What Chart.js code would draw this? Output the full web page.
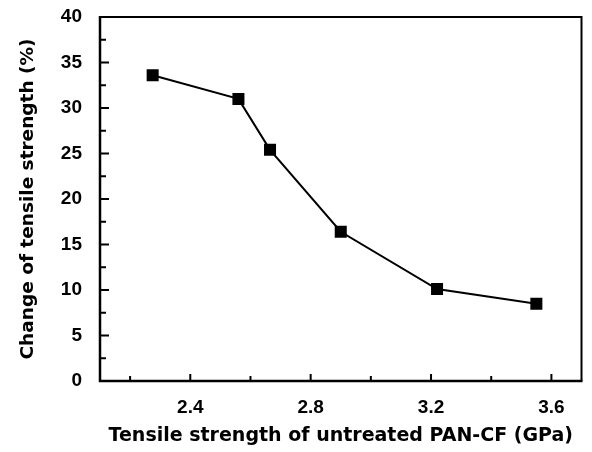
<!DOCTYPE html>
<html>
<head>
<meta charset="utf-8">
<script src="https://cdn.jsdelivr.net/npm/chart.js@4/dist/chart.umd.min.js"></script>
<style>
  html, body { margin: 0; padding: 0; background: #fff; }
  #wrap { width: 592px; height: 452px; }
</style>
</head>
<body>
<div id="wrap"><canvas id="c" width="592" height="452"></canvas></div>
<script>
// Data
const untreatedStrength = [2.275, 2.56, 2.665, 2.9, 3.22, 3.55];
const changePercent = [33.6, 31.0, 25.4, 16.4, 10.1, 8.5];

// Tick labels
const xTickLabels = [2.4, 2.8, 3.2, 3.6];
const xMinorTicks = [2.2, 2.6, 3.0, 3.4];
const yTickLabels = [0, 5, 10, 15, 20, 25, 30, 35, 40];
const yMinorTicks = [2.5, 7.5, 12.5, 17.5, 22.5, 27.5, 32.5, 37.5];

const xTitle = 'Tensile strength of untreated PAN-CF (GPa)';
const yTitle = 'Change of tensile strength (%)';

const TICK_FONT = '"Liberation Sans", Arial, Helvetica, sans-serif';
const TITLE_FONT = '"DejaVu Sans", "Liberation Sans", sans-serif';

const framePlugin = {
  id: 'frame',
  afterDatasetsDraw(chart) {
    const ctx = chart.ctx;
    const a = chart.chartArea;
    const xs = chart.scales.x, ys = chart.scales.y;
    ctx.save();
    ctx.strokeStyle = '#000';
    ctx.lineCap = 'butt';
    ctx.lineWidth = 2;
    ctx.beginPath();
    ctx.moveTo(a.left, a.top); ctx.lineTo(a.right, a.top); ctx.lineTo(a.right, a.bottom);
    ctx.stroke();
    ctx.lineWidth = 2.5;
    ctx.beginPath();
    ctx.moveTo(a.left, a.top - 1); ctx.lineTo(a.left, a.bottom); ctx.lineTo(a.right + 1, a.bottom);
    ctx.stroke();
    ctx.lineWidth = 2;
    ctx.beginPath();
    yTickLabels.forEach(v => {
      if (v <= ys.min || v >= ys.max) return;
      const p = ys.getPixelForValue(v);
      ctx.moveTo(a.left, p); ctx.lineTo(a.left + 9, p);
    });
    yMinorTicks.forEach(v => {
      const p = ys.getPixelForValue(v);
      ctx.moveTo(a.left, p); ctx.lineTo(a.left + 6, p);
    });
    xTickLabels.forEach(v => {
      const p = xs.getPixelForValue(v);
      ctx.moveTo(p, a.bottom); ctx.lineTo(p, a.bottom - 7);
    });
    xMinorTicks.forEach(v => {
      const p = xs.getPixelForValue(v);
      ctx.moveTo(p, a.bottom); ctx.lineTo(p, a.bottom - 5);
    });
    ctx.stroke();
    ctx.restore();
  }
};

new Chart(document.getElementById('c'), {
  type: 'scatter',
  data: {
    datasets: [{
      data: untreatedStrength.map((x, i) => ({ x: x, y: changePercent[i] })),
      showLine: true,
      borderColor: '#000',
      borderWidth: 2,
      backgroundColor: '#000',
      pointStyle: 'rect',
      pointRadius: 8.5,
      pointBorderWidth: 0,
      pointBackgroundColor: '#000',
      tension: 0
    }]
  },
  options: {
    responsive: false,
    animation: false,
    devicePixelRatio: 1,
    layout: { padding: { top: 17, right: 10.5, left: 0, bottom: 0 } },
    plugins: { legend: { display: false }, tooltip: { enabled: false } },
    scales: {
      x: {
        type: 'linear',
        min: 2.1,
        max: 3.7,
        afterBuildTicks(scale) { scale.ticks = xTickLabels.map(v => ({ value: v })); },
        afterFit(scale) { scale.height = 71; scale.paddingLeft = 0; scale.paddingRight = 0; },
        grid: { display: false, drawTicks: false },
        border: { display: false },
        ticks: {
          color: '#000',
          padding: 15,
          font: { family: TICK_FONT, size: 19, weight: 'bold' },
          callback: v => v.toFixed(1)
        },
        title: {
          display: true,
          text: xTitle,
          color: '#000',
          font: { family: TITLE_FONT, size: 19, weight: 'bold' },
          padding: { top: 0, bottom: 4.6 }
        }
      },
      y: {
        type: 'linear',
        min: 0,
        max: 40,
        afterBuildTicks(scale) { scale.ticks = yTickLabels.map(v => ({ value: v })); },
        afterFit(scale) { scale.width = 100; scale.paddingTop = 0; scale.paddingBottom = 0; },
        grid: { display: false, drawTicks: false },
        border: { display: false },
        ticks: {
          color: '#000',
          padding: 18,
          font: { family: TICK_FONT, size: 19, weight: 'bold' },
          callback: v => String(v)
        },
        title: {
          display: true,
          text: yTitle,
          color: '#000',
          font: { family: TITLE_FONT, size: 18.5, weight: 'bold' },
          padding: { top: 16.9, bottom: 0 }
        }
      }
    }
  },
  plugins: [framePlugin]
});
</script>
</body>
</html>
